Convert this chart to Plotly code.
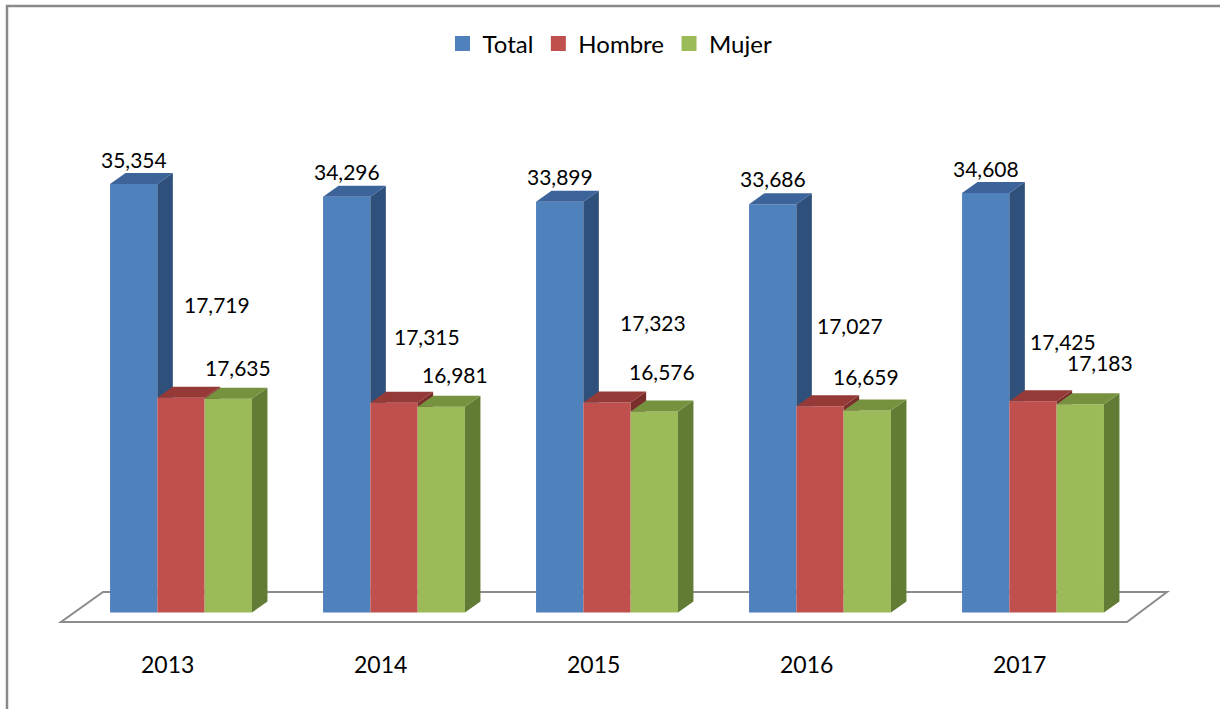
import plotly.graph_objects as go

# ---------------- data ----------------
years = ["2013", "2014", "2015", "2016", "2017"]
total = [35354, 34296, 33899, 33686, 34608]
hombre = [17719, 17315, 17323, 17027, 17425]
mujer = [17635, 16981, 16576, 16659, 17183]
series_names = ["Total", "Hombre", "Mujer"]

# ---------------- styling / geometry ----------------
W, H = 1220, 709
GROUP_PX = 213.0      # pixel distance between groups
X0_PX = 181.0         # pixel x of first group centre
BASE_PX = 612.5       # pixel y of value 0
UNIT_PX = 0.01212     # pixels per unit of value
BAR_PX = 47.3         # bar front width
DX_PX, DY_PX = 15.5, 11.0   # 3D depth offset

FONT = "Lato"
front_cols = ["#4F81BD", "#C0504D", "#9BBB59"]
top_cols = ["#3C649A", "#963A37", "#77923E"]
side_cols = ["#30507C", "#7A2E2C", "#637C35"]

# label offsets in pixels (xshift, yshift) relative to front-top centre
lab_dx = [[0, 0, 0, 0, 0], [36, 33, 46, 30, 30], [10, 14, 8, -1, 20]]
lab_dy = [[25, 25, 25, 26, 25], [93, 66, 80, 81, 60], [31, 32, 40, 34, 42]]


def px2x(px):
    return (px - X0_PX) / GROUP_PX


def py2y(py):
    return (BASE_PX - py) / UNIT_PX


bw = BAR_PX / GROUP_PX
ddx = DX_PX / GROUP_PX
ddy = DY_PX / UNIT_PX

values = [total, hombre, mujer]
fig = go.Figure()

# front faces (bars)
for j, (name, vals) in enumerate(zip(series_names, values)):
    xs = [i + (j - 1) * bw for i in range(len(years))]
    fig.add_trace(go.Bar(
        x=xs, y=vals, width=bw, name=name, legendgroup=name, showlegend=False,
        marker=dict(color=front_cols[j], line=dict(width=0)),
        hovertext=years, hoverinfo="text+y",
    ))

# side and top faces (computed from the data)
for j, vals in enumerate(values):
    sx, sy, tx, ty = [], [], [], []
    for i, v in enumerate(vals):
        xl = i + (j - 1.5) * bw
        xr = xl + bw
        clip = values[j + 1][i] if j < 2 else 0
        if clip > 0:
            sx += [xr, xr + ddx, xr + ddx, xr, xr, None]
            sy += [clip, clip, v + ddy, v, clip, None]
        else:
            sx += [xr, xr + ddx, xr + ddx, xr, xr, None]
            sy += [0, ddy, v + ddy, v, 0, None]
        tx += [xl, xr, xr + ddx, xl + ddx, xl, None]
        ty += [v, v, v + ddy, v + ddy, v, None]
    fig.add_trace(go.Scatter(x=sx, y=sy, mode="lines", fill="toself",
                             fillcolor=side_cols[j], line=dict(width=0),
                             showlegend=False, hoverinfo="skip"))
    fig.add_trace(go.Scatter(x=tx, y=ty, mode="lines", fill="toself",
                             fillcolor=top_cols[j], line=dict(width=0),
                             showlegend=False, hoverinfo="skip"))

# legend entries (square swatches)
for j, name in enumerate(series_names):
    fig.add_trace(go.Scatter(
        x=[None], y=[None], mode="markers", name=name, legendgroup=name,
        marker=dict(symbol="square", size=15, color=front_cols[j]),
        hoverinfo="skip",
    ))

# data labels
annotations = []
for j, vals in enumerate(values):
    for i, v in enumerate(vals):
        annotations.append(dict(
            x=i + (j - 1) * bw, y=v, xref="x", yref="y",
            text=f"{v:,}", showarrow=False,
            xshift=lab_dx[j][i], yshift=lab_dy[j][i],
            font=dict(family=FONT, size=21, color="#000000"),
        ))

# category labels
for i, yr in enumerate(years):
    annotations.append(dict(
        x=i - 13.5 / GROUP_PX, y=py2y(664), xref="x", yref="y",
        text=yr, showarrow=False,
        font=dict(family=FONT, size=23, color="#000000"),
    ))

# floor
floor_pts = [(61, 622), (1127, 622), (1167, 592), (103, 592)]
path = "M " + " L ".join(f"{px2x(a)},{py2y(b)}" for a, b in floor_pts) + " Z"
shapes = [
    dict(type="path", path=path, xref="x", yref="y",
         line=dict(color="#8C8C8C", width=2), fillcolor="white", layer="below"),
    dict(type="rect", xref="paper", yref="paper",
         x0=7 / W, x1=1.02, y0=-0.02, y1=1 - 6 / H,
         line=dict(color="#8A8A8A", width=2.5), layer="above"),
]

fig.update_layout(
    width=W, height=H,
    margin=dict(l=0, r=0, t=0, b=0),
    paper_bgcolor="white", plot_bgcolor="white",
    barmode="overlay",
    xaxis=dict(range=[px2x(0), px2x(W)], visible=False, fixedrange=True),
    yaxis=dict(range=[py2y(H), py2y(0)], visible=False, fixedrange=True),
    legend=dict(orientation="h", x=0.5, xanchor="center",
                y=1 - 44 / H, yanchor="middle",
                font=dict(family=FONT, size=24, color="#000000"),
                itemwidth=30, bgcolor="rgba(0,0,0,0)"),
    annotations=annotations,
    shapes=shapes,
    font=dict(family=FONT),
)

fig.write_html("out.html", config={"displayModeBar": False},
               post_script="document.body.style.margin='0';")
